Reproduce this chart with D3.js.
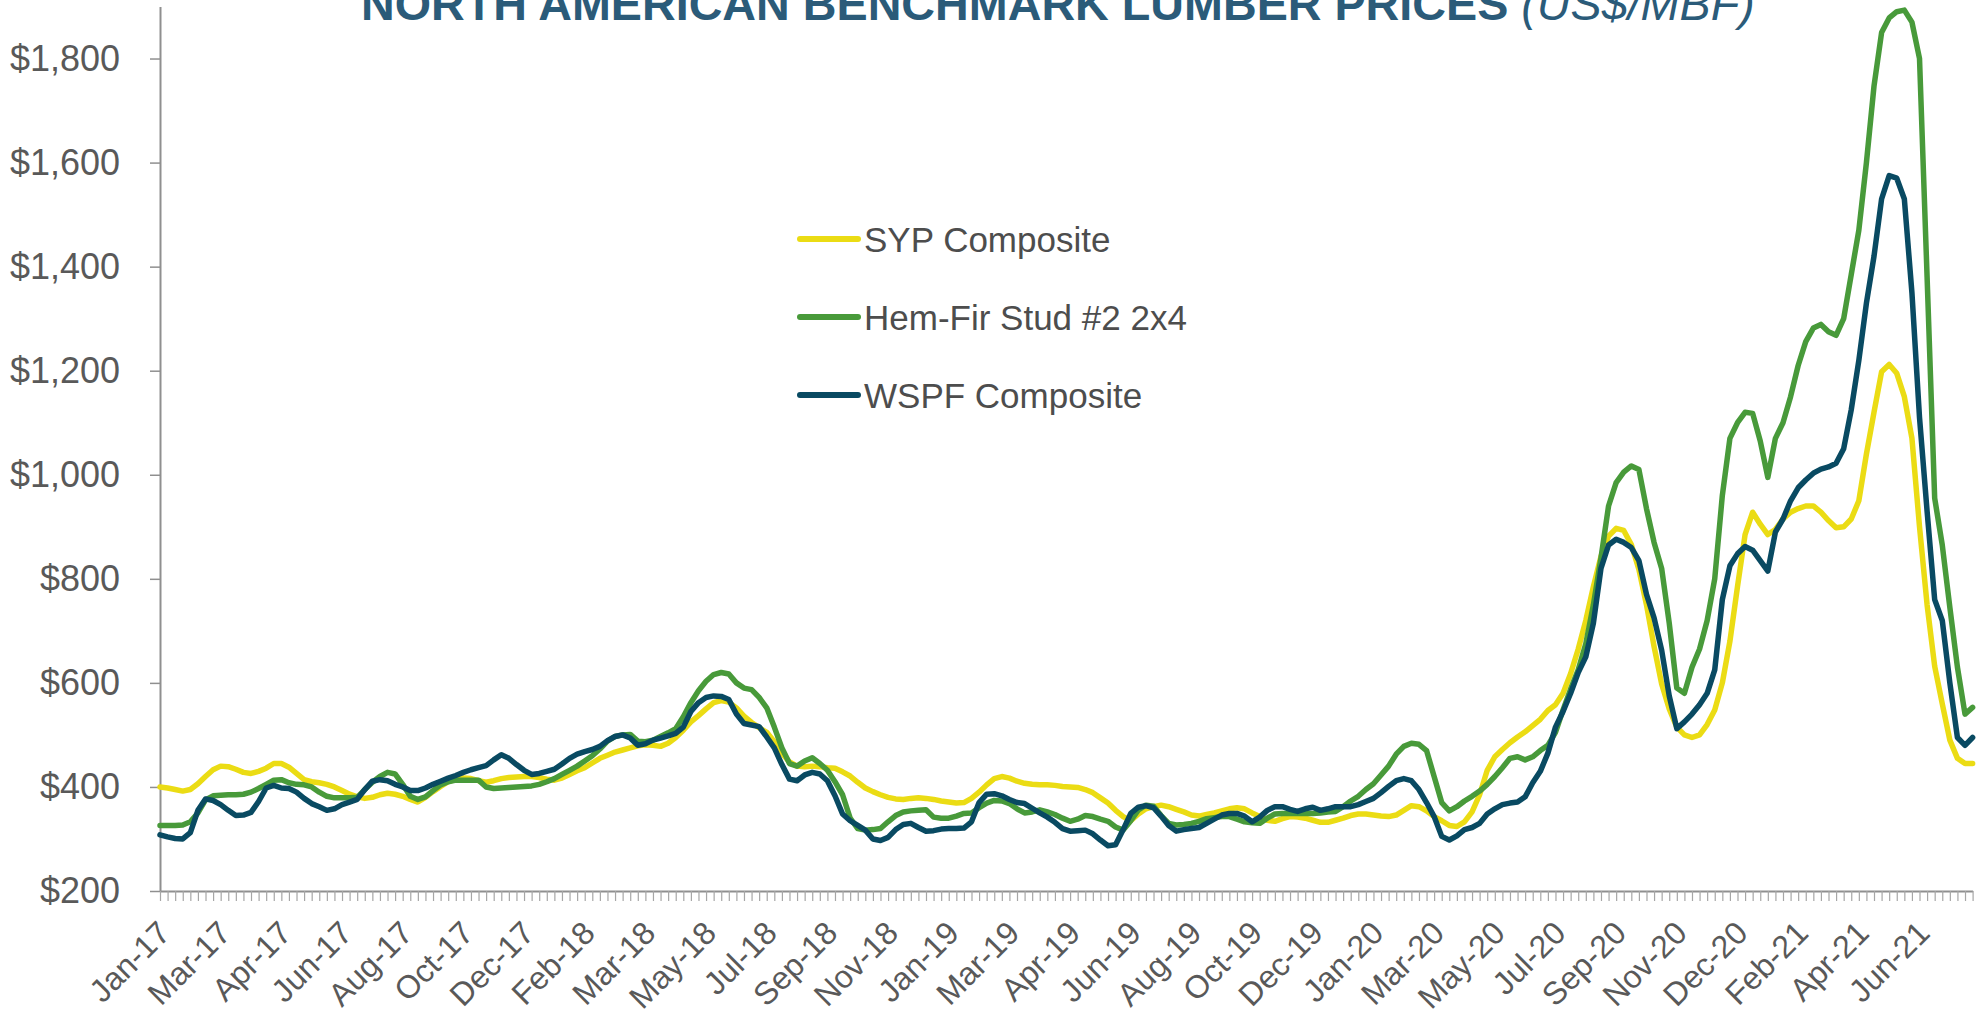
<!DOCTYPE html>
<html><head><meta charset="utf-8">
<script src="https://cdn.jsdelivr.net/npm/d3@7"></script>
<style>body{margin:0;background:#fff;} svg{display:block;font-family:"Liberation Sans",Arial,sans-serif;}</style>
</head><body><svg id="chart" width="1986" height="1017"></svg>
<script>
const tickLabels = ["Jan-17","Mar-17","Apr-17","Jun-17","Aug-17","Oct-17","Dec-17","Feb-18","Mar-18","May-18","Jul-18","Sep-18","Nov-18","Jan-19","Mar-19","Apr-19","Jun-19","Aug-19","Oct-19","Dec-19","Jan-20","Mar-20","May-20","Jul-20","Sep-20","Nov-20","Dec-20","Feb-21","Apr-21","Jun-21"];
const labelEvery = 8;
const yTicks = [200,400,600,800,1000,1200,1400,1600,1800];
const seriesNames = ["SYP Composite","Hem-Fir Stud #2 2x4","WSPF Composite"];

const syp = [
400,398,395,392,395,406,420,433,440,439,
434,428,426,430,436,445,445,438,426,414,
410,408,405,400,393,386,381,378,380,385,
388,386,382,376,371,380,391,401,410,415,
417,416,412,409,412,416,418,419,420,420,
418,415,413,417,424,431,437,446,455,461,
467,471,475,479,481,480,478,484,495,509,
525,537,550,562,566,563,552,536,524,514,
505,487,465,448,440,439,440,439,437,436,
429,421,409,398,391,385,380,377,376,378,
379,378,376,373,371,369,370,378,390,404,
416,420,417,411,407,405,404,404,403,401,
400,399,395,389,379,369,355,343,335,348,
358,362,365,362,357,352,346,344,347,350,
354,358,360,358,350,343,336,334,339,343,
342,340,336,332,332,336,340,345,348,348,
346,344,343,346,355,364,362,354,343,335,
326,324,333,352,385,432,458,472,485,496,
506,518,530,547,558,580,618,665,720,785,
843,882,897,893,866,818,750,670,598,550,
515,500,495,500,520,548,600,680,785,885,
928,905,885,895,915,928,935,940,940,928,
912,898,900,915,950,1040,1120,1198,1212,1195,
1150,1070,900,750,632,560,490,455,445,445];

const hemFir = [
326,326,326,327,333,350,375,383,384,385,
385,386,390,397,405,413,414,408,405,404,
400,390,382,379,379,379,380,395,409,420,
428,425,405,382,376,381,393,404,410,413,
413,413,413,400,397,398,399,400,401,402,
405,410,416,424,432,440,450,460,473,488,
497,500,501,488,487,490,497,504,512,535,
562,585,603,616,620,617,600,590,587,572,
552,515,475,445,440,450,456,445,432,410,
385,340,320,317,318,320,333,345,352,354,
355,356,342,340,340,344,349,350,360,369,
374,373,368,358,350,352,356,352,347,340,
334,338,345,343,338,334,323,317,335,356,
365,363,345,330,327,328,330,334,339,341,
343,343,338,333,331,330,340,348,349,349,
349,349,349,350,352,353,362,373,382,395,
406,423,440,463,478,484,482,470,420,370,
354,362,373,382,392,405,420,437,455,458,
452,458,470,480,505,548,588,625,675,750,
840,940,985,1005,1017,1010,935,870,820,715,
590,580,630,665,720,800,960,1070,1100,1120,
1118,1065,995,1070,1100,1150,1210,1256,1282,1289,
1275,1268,1300,1385,1470,1600,1747,1850,1878,1890,
1893,1870,1800,1380,955,865,745,630,540,553];

const wspf = [
308,304,301,300,312,355,377,374,366,355,
345,346,351,372,398,403,398,397,390,378,
368,362,355,358,366,371,376,395,411,414,
412,405,400,393,393,398,405,411,417,422,
428,433,437,441,452,462,455,443,432,424,
426,430,434,444,455,463,468,472,478,489,
497,500,494,480,483,490,494,498,503,515,
545,562,572,575,574,568,540,522,519,516,
496,475,443,415,412,423,428,425,412,383,
348,335,326,317,300,297,303,318,328,330,
322,315,316,319,320,320,321,333,370,386,
387,383,376,370,368,359,350,342,332,320,
315,316,317,310,298,287,289,318,349,361,
364,360,344,326,315,318,320,322,330,338,
346,349,349,344,333,342,355,362,362,357,
353,358,361,355,358,362,362,362,366,372,
378,389,401,412,416,412,395,370,343,305,
298,306,318,322,330,348,358,366,369,371,
381,408,430,465,515,545,580,620,650,715,
820,865,876,870,860,835,770,725,663,575,
512,525,540,558,580,625,760,825,848,862,
855,835,815,890,915,950,975,990,1003,1011,
1015,1022,1050,1125,1220,1330,1420,1530,1575,1570,
1530,1350,1110,930,760,720,600,495,480,495];

const seriesColors = ["#EBDC14","#489A3A","#094A62"];

const W = 1986, H = 1017;
const svg = d3.select("#chart");
svg.append("rect").attr("width", W).attr("height", H).attr("fill", "#fff");

const x = d3.scaleLinear().domain([0, syp.length - 1]).range([160, 1972.6]);
const y = d3.scaleLinear().domain([200, 1900]).range([891, 6.5]);

// Title (partially cropped at the top, as in the source)
const title = svg.append("text").attr("x", 361).attr("y", 20)
  .attr("font-size", 46.7).attr("fill", "#2B5B79");
title.append("tspan").attr("font-weight", "bold").text("NORTH AMERICAN BENCHMARK LUMBER PRICES");
title.append("tspan").attr("font-style", "italic").text(" (US$/MBF)");

const axisColor = "#8F8F8F";

// Y axis
const yAxis = svg.append("g").attr("transform", `translate(${x(0)},0)`)
  .call(d3.axisLeft(y).tickValues(yTicks).tickSize(10).tickSizeOuter(0).tickPadding(30)
    .tickFormat(d => "$" + d3.format(",")(d)));
yAxis.select(".domain").attr("stroke", axisColor).attr("stroke-width", 2);
yAxis.selectAll(".tick line").attr("stroke", axisColor).attr("stroke-width", 1.5);
yAxis.selectAll(".tick text").attr("font-size", 36).attr("fill", "#595959")
  .attr("font-family", "Liberation Sans, Arial, sans-serif");

// X axis with a tick for every week
const idx = d3.range(syp.length);
const xAxis = svg.append("g").attr("transform", `translate(0,${y(200)})`)
  .call(d3.axisBottom(x).tickValues(idx).tickSize(10).tickSizeOuter(0).tickFormat(""));
xAxis.select(".domain").attr("stroke", axisColor).attr("stroke-width", 2);
xAxis.selectAll(".tick line").attr("stroke", "#A6A6A6").attr("stroke-width", 1.2);

// X labels every 8 weeks, rotated
svg.append("g").selectAll("text").data(tickLabels).join("text")
  .attr("transform", (d, k) => `translate(${x(k * labelEvery) + 12},${y(200) + 44}) rotate(-45)`)
  .attr("text-anchor", "end")
  .attr("font-size", 32).attr("fill", "#595959")
  .text(d => d);

// Lines
const allSeries = [syp, hemFir, wspf];
const line = d3.line().x((d, i) => x(i)).y(d => y(d));
svg.append("g").selectAll("path").data(allSeries).join("path")
  .attr("d", d => line(d))
  .attr("fill", "none")
  .attr("stroke", (d, k) => seriesColors[k])
  .attr("stroke-width", 5.5)
  .attr("stroke-linejoin", "round")
  .attr("stroke-linecap", "round");

// Legend
const legendRows = [239, 317, 395];
const lg = svg.append("g");
seriesNames.forEach((name, k) => {
  lg.append("line").attr("x1", 800).attr("x2", 858)
    .attr("y1", legendRows[k]).attr("y2", legendRows[k])
    .attr("stroke", seriesColors[k]).attr("stroke-width", 6).attr("stroke-linecap", "round");
  lg.append("text").attr("x", 864).attr("y", legendRows[k] + 12.5)
    .attr("font-size", 35).attr("fill", "#4D4D4D").text(name);
});
</script></body></html>
